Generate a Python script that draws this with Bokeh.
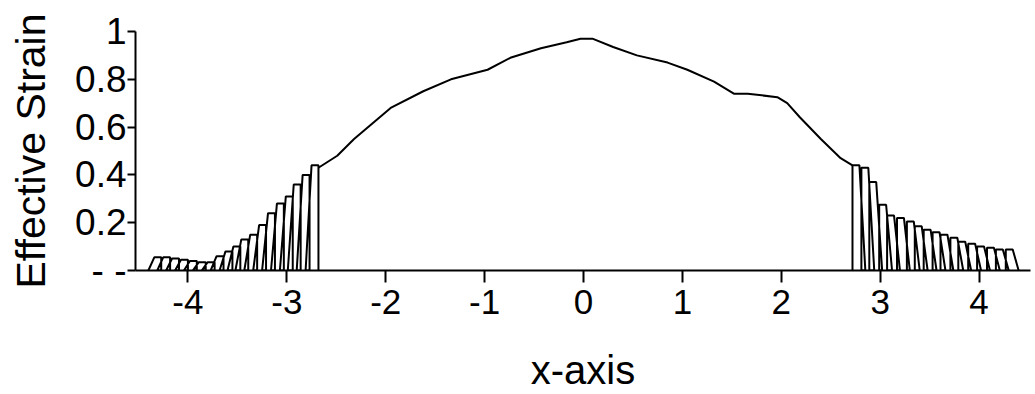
from bokeh.plotting import figure
from bokeh.models import Range1d, FixedTicker
from bokeh.embed import file_html
from bokeh.resources import INLINE

# ---- data ----
x_ticks = [-4, -3, -2, -1, 0, 1, 2, 3, 4]
x_tick_labels = {-4: "-4", -3: "-3", -2: "-2", -1: "-1", 0: "0", 1: "1", 2: "2", 3: "3", 4: "4"}
y_ticks = [0, 0.2, 0.4, 0.6, 0.8, 1]
y_tick_labels = {0: "- -", 0.2: "0.2", 0.4: "0.4", 0.6: "0.6", 0.8: "0.8", 1: "1"}

left_tooth_x = [-4.27, -4.18, -4.09, -4.00, -3.91, -3.82, -3.73, -3.64, -3.55, -3.47,
                -3.39, -3.30, -3.21, -3.12, -3.03, -2.94, -2.86, -2.77, -2.68]
left_tooth_y = [0.055, 0.055, 0.05, 0.045, 0.04, 0.035, 0.035, 0.06, 0.08, 0.10,
                0.13, 0.15, 0.19, 0.24, 0.28, 0.31, 0.36, 0.40, 0.44]

main_x = [-2.68, -2.49, -2.32, -1.95, -1.62, -1.34, -0.97, -0.74, -0.43, -0.17,
          -0.03, 0.09, 0.30, 0.54, 0.85, 1.05, 1.32, 1.52, 1.66, 1.96,
          2.06, 2.19, 2.40, 2.60, 2.72]
main_y = [0.43, 0.48, 0.55, 0.68, 0.75, 0.80, 0.84, 0.89, 0.93, 0.955,
          0.97, 0.97, 0.935, 0.90, 0.87, 0.84, 0.79, 0.74, 0.74, 0.725,
          0.70, 0.64, 0.55, 0.47, 0.44]

right_tooth_x = [2.72, 2.81, 2.89, 2.99, 3.07, 3.17, 3.27, 3.35, 3.44, 3.53,
                 3.61, 3.71, 3.79, 3.89, 3.98, 4.08, 4.17, 4.27]
right_tooth_y = [0.44, 0.43, 0.37, 0.275, 0.23, 0.22, 0.205, 0.185, 0.17, 0.16,
                 0.15, 0.137, 0.12, 0.112, 0.10, 0.095, 0.088, 0.088]

# tooth geometry (style)
TOP_W = 0.07
SLANT = 0.06

lx, ly = [], []
for x, y in zip(left_tooth_x, left_tooth_y):
    lx += [x - TOP_W - SLANT, x - TOP_W, x, x]
    ly += [0, y, y, 0]

rx, ry = [], []
for x, y in zip(right_tooth_x, right_tooth_y):
    rx += [x, x, x + TOP_W, x + TOP_W + SLANT]
    ry += [0, y, y, 0]

p = figure(width=1032, height=394,
           x_range=Range1d(-4.53, 4.52), y_range=Range1d(0, 1),
           output_backend="svg", toolbar_location=None,
           min_border_left=135, min_border_right=2,
           min_border_top=31, min_border_bottom=123)
p.outline_line_color = None
p.grid.visible = False
p.background_fill_color = "white"
p.border_fill_color = "white"

p.line(lx, ly, line_color="black", line_width=2)
p.line(main_x, main_y, line_color="black", line_width=2)
p.line(rx, ry, line_color="black", line_width=2)

FONT = "Liberation Sans"
for ax in (p.xaxis[0], p.yaxis[0]):
    ax.axis_line_width = 2
    ax.axis_line_color = "black"
    ax.major_tick_line_width = 2
    ax.major_tick_line_color = "black"
    ax.major_tick_in = 0
    ax.minor_tick_line_color = None
    ax.major_label_text_font = FONT
    ax.major_label_text_color = "black"
    ax.axis_label_text_font = FONT
    ax.axis_label_text_font_style = "normal"
    ax.axis_label_text_color = "black"

p.xaxis.ticker = FixedTicker(ticks=x_ticks)
p.xaxis.major_label_overrides = x_tick_labels
p.xaxis.major_tick_out = 12
p.xaxis.major_label_standoff = 7
p.xaxis.major_label_text_font_size = "35px"
p.xaxis.axis_label = "x-axis"
p.xaxis.axis_label_text_font_size = "40px"
p.xaxis.axis_label_standoff = 31

p.yaxis.ticker = FixedTicker(ticks=y_ticks)
p.yaxis.major_label_overrides = y_tick_labels
p.yaxis.major_tick_out = 8
p.yaxis.major_label_standoff = 1
p.yaxis.major_label_text_font_size = "37px"
p.yaxis.axis_label = "Effective Strain"
p.yaxis.axis_label_text_font_size = "41px"
p.yaxis.axis_label_standoff = 18

open("out.html", "w").write(file_html(p, INLINE))
